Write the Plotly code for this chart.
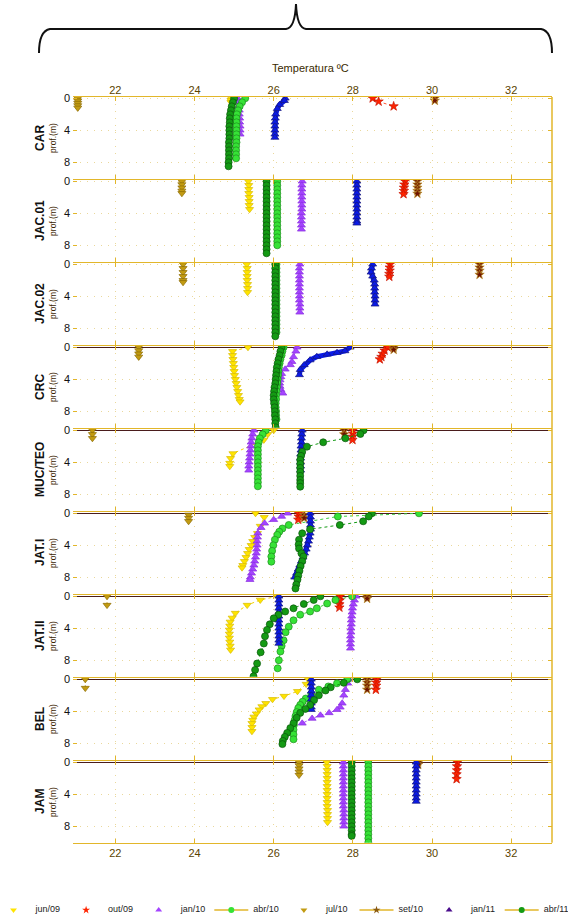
import plotly.graph_objects as go

# ---------------------------------------------------------------- data
STATIONS = ["CAR", "JAC.01", "JAC.02", "CRC", "MUC/TEO", "JAT.I", "JAT.II", "BEL", "JAM"]
X_TICKS = [22, 24, 26, 28, 30, 32]
Y_TICKS = [0, 4, 8]

# each entry: station -> (depths in m, temperatures in degC)
JUN09 = {
    "CAR": ([0, 0.25, 0.5], [24.93, 24.92, 24.92]),
    "JAC.01": ([0, 0.5, 1, 1.5, 2, 2.5, 3, 3.5], [25.36, 25.37, 25.37, 25.37, 25.38, 25.38, 25.38, 25.39]),
    "JAC.02": ([0, 0.5, 1, 1.5, 2, 2.5, 3, 3.5], [25.32, 25.33, 25.33, 25.33, 25.33, 25.34, 25.34, 25.34]),
    "CRC": ([0, 0.5, 1, 1.5, 2, 2.5, 3, 3.5, 4, 4.5, 5, 5.5, 6, 6.5, 6.8],
            [25.35, 24.96, 24.96, 24.97, 24.98, 24.99, 25.0, 25.01, 25.03, 25.05, 25.07, 25.09, 25.11, 25.13, 25.15]),
    "MUC/TEO": ([0, 0.5, 1.2, 2.9, 3.5, 4.1, 4.5], [26.0, 25.85, 25.75, 24.97, 24.91, 24.89, 24.89]),
    "JAT.I": ([0, 0.5, 1.6, 2.5, 3, 3.5, 4, 4.5, 5, 5.5, 6, 6.5, 6.8],
              [25.54, 25.76, 25.66, 25.59, 25.52, 25.47, 25.43, 25.38, 25.34, 25.3, 25.26, 25.22, 25.2]),
    "JAT.II": ([0, 0.46, 1.1, 2.1, 2.7, 3.2, 3.7, 4.2, 4.7, 5.2, 5.7, 6.2, 6.7],
               [26.09, 25.66, 25.33, 25.03, 24.95, 24.9, 24.89, 24.88, 24.88, 24.88, 24.89, 24.9, 24.91]),
    "BEL": ([0, 0.6, 1.5, 2.1, 2.5, 3, 3.4, 3.8, 4.3, 4.7, 5.1, 5.5, 6, 6.5],
            [26.87, 26.82, 26.6, 26.26, 25.97, 25.8, 25.7, 25.63, 25.56, 25.5, 25.47, 25.45, 25.45, 25.45]),
    "JAM": ([0, 0.5, 1, 1.5, 2, 2.5, 3, 3.5, 4, 4.5, 5, 5.5, 6, 6.5, 7, 7.5],
            [27.34, 27.35, 27.35, 27.35, 27.35, 27.35, 27.35, 27.35, 27.35, 27.35, 27.35, 27.35, 27.36, 27.36, 27.36, 27.36]),
}

OUT09 = {
    "CAR": ([0, 0.4, 1.0], [28.5, 28.65, 29.03]),
    "JAC.01": ([0, 0.4, 0.8, 1.2, 1.6], [29.32, 29.3, 29.29, 29.29, 29.28]),
    "JAC.02": ([0, 0.4, 0.8, 1.2, 1.55], [28.94, 28.93, 28.93, 28.92, 28.92]),
    "CRC": ([0, 0.4, 0.8, 1.2, 1.5], [28.88, 28.8, 28.75, 28.72, 28.68]),
    "MUC/TEO": ([0, 0.4, 0.8, 1.2], [28.0, 28.0, 27.99, 27.99]),
    "JAT.I": ([0, 0.4, 0.8], [26.63, 26.63, 26.62]),
    "JAT.II": ([0, 0.5, 1.0, 1.4], [27.68, 27.67, 27.66, 27.66]),
    "BEL": ([0, 0.4, 0.8, 1.3], [28.6, 28.59, 28.59, 28.58]),
    "JAM": ([0, 0.5, 1, 1.5, 2.1], [30.64, 30.63, 30.63, 30.62, 30.62]),
}

JAN10 = {
    "CAR": ([0, 0.5, 1, 1.5, 2, 2.5, 3, 3.5, 4, 4.5],
            [25.09, 25.11, 25.12, 25.13, 25.13, 25.14, 25.14, 25.15, 25.15, 25.15]),
    "JAC.01": ([0, 0.5, 1, 1.5, 2, 2.5, 3, 3.5, 4, 4.5, 5, 5.5, 6],
               [26.72, 26.71, 26.71, 26.71, 26.71, 26.71, 26.71, 26.71, 26.7, 26.7, 26.7, 26.7, 26.7]),
    "JAC.02": ([0, 0.5, 1, 1.5, 2, 2.5, 3, 3.5, 4, 4.5, 5, 5.5, 6],
               [26.66, 26.65, 26.65, 26.65, 26.65, 26.65, 26.65, 26.65, 26.65, 26.65, 26.66, 26.66, 26.66]),
    "CRC": ([0, 0.5, 1.2, 1.8, 2.2, 2.75, 3.3, 3.7, 4.1, 4.5, 4.9, 5.3, 5.75],
            [26.59, 26.56, 26.5, 26.46, 26.42, 26.29, 26.2, 26.18, 26.16, 26.15, 26.16, 26.18, 26.23]),
    "MUC/TEO": ([0, 0.5, 1, 1.5, 2, 2.5, 3, 3.5, 4, 4.5, 5],
                [25.5, 25.47, 25.45, 25.43, 25.42, 25.41, 25.4, 25.39, 25.38, 25.37, 25.37]),
    "JAT.I": ([0, 0.4, 0.8, 1.25, 1.8, 2.5, 3, 3.5, 4, 4.5, 5, 5.5, 6, 6.5, 7, 7.5, 8, 8.3],
              [26.35, 26.2, 26.0, 25.77, 25.68, 25.6, 25.59, 25.58, 25.58, 25.57, 25.56, 25.54, 25.52, 25.5, 25.47, 25.44, 25.41, 25.4]),
    "JAT.II": ([0, 0.5, 1, 1.5, 2, 2.5, 3, 3.5, 4, 4.5, 5, 5.5, 6, 6.5],
               [28.08, 28.04, 28.01, 27.99, 27.98, 27.97, 27.96, 27.96, 27.95, 27.95, 27.94, 27.94, 27.94, 27.94]),
    "BEL": ([0, 0.5, 1.3, 2, 3, 3.5, 3.8, 4.2, 4.5, 4.9, 5.5],
            [27.9, 27.87, 27.81, 27.77, 27.73, 27.68, 27.6, 27.4, 27.18, 26.97, 26.72]),
    "JAM": ([0, 0.5, 1, 1.5, 2, 2.5, 3, 3.5, 4, 4.5, 5, 5.5, 6, 6.5, 7, 7.5, 8],
            [27.76, 27.76, 27.76, 27.76, 27.76, 27.76, 27.76, 27.76, 27.76, 27.76, 27.76, 27.76, 27.77, 27.77, 27.77, 27.77, 27.77]),
}

ABR10 = {
    "CAR": ([0, 0.5, 1, 1.5, 2, 2.5, 3, 3.5, 4, 4.5, 5, 5.5, 6, 6.5, 7, 7.5],
            [25.28, 25.2, 25.14, 25.1, 25.07, 25.06, 25.06, 25.06, 25.06, 25.06, 25.06, 25.06, 25.05, 25.05, 25.05, 25.05]),
    "JAC.01": ([0, 0.5, 1, 1.5, 2, 2.5, 3, 3.5, 4, 4.5, 5, 5.5, 6, 6.5, 7, 7.5, 8],
               [26.09, 26.09, 26.09, 26.09, 26.09, 26.09, 26.09, 26.09, 26.09, 26.09, 26.09, 26.09, 26.09, 26.09, 26.09, 26.09, 26.09]),
    "JAC.02": ([0, 0.5, 1, 1.5, 2, 2.5, 3, 3.5, 4, 4.5, 5, 5.5, 6, 6.5, 7, 7.5, 8, 8.5],
               [26.07, 26.07, 26.07, 26.07, 26.07, 26.07, 26.07, 26.07, 26.07, 26.07, 26.07, 26.07, 26.07, 26.07, 26.07, 26.07, 26.07, 26.07]),
    "CRC": ([0, 0.5, 1, 1.5, 2, 2.5, 3, 3.5, 4, 4.5, 5, 5.5, 6, 6.5, 7, 7.5, 8, 8.5, 9],
            [26.25, 26.22, 26.2, 26.17, 26.15, 26.13, 26.12, 26.11, 26.1, 26.09, 26.08, 26.07, 26.06, 26.06, 26.05, 26.05, 26.06, 26.06, 26.07]),
    "MUC/TEO": ([0, 0.5, 1, 1.5, 2, 2.5, 3, 3.5, 4, 4.5, 5, 5.5, 6, 6.5, 7],
                [25.8, 25.72, 25.65, 25.62, 25.6, 25.6, 25.6, 25.6, 25.6, 25.6, 25.6, 25.6, 25.6, 25.6, 25.6]),
    "JAT.I": ([0, 0.4, 1.46, 1.9, 2.3, 2.7, 3.3, 4, 4.7, 5.4, 6.05],
              [29.67, 27.62, 26.38, 26.22, 26.14, 26.09, 26.03, 25.99, 25.96, 25.94, 25.94]),
    "JAT.II": ([0, 0.46, 0.9, 1.5, 1.9, 2.3, 3, 3.8, 4.5, 5.5, 6.2, 6.9, 8, 9],
               [27.98, 27.56, 27.35, 27.09, 26.92, 26.67, 26.5, 26.38, 26.3, 26.25, 26.2, 26.17, 26.13, 26.1]),
    "BEL": ([0, 0.5, 0.9, 1.3, 1.8, 2.4, 2.8, 3.2, 3.6, 4.1, 4.6, 5.1, 5.7, 6.3, 6.9, 7.5],
            [27.86, 27.6, 27.38, 27.14, 26.95, 26.81, 26.73, 26.67, 26.62, 26.58, 26.55, 26.53, 26.51, 26.5, 26.5, 26.5]),
    "JAM": ([0, 0.5, 1, 1.5, 2, 2.5, 3, 3.5, 4, 4.5, 5, 5.5, 6, 6.5, 7, 7.5, 8, 8.5, 9, 9.5, 10],
            [28.39, 28.39, 28.39, 28.39, 28.39, 28.39, 28.39, 28.39, 28.39, 28.39, 28.39,
             28.39, 28.39, 28.39, 28.39, 28.39, 28.39, 28.39, 28.39, 28.39, 28.39]),
}

JUL10 = {
    "CAR": ([0, 0.3, 0.6, 0.9, 1.2], [21.05, 21.05, 21.05, 21.05, 21.05]),
    "JAC.01": ([0, 0.4, 0.8, 1.2, 1.5], [23.68, 23.68, 23.68, 23.68, 23.68]),
    "JAC.02": ([0, 0.5, 1.0, 1.5, 2.0, 2.25], [23.71, 23.71, 23.71, 23.71, 23.71, 23.71]),
    "CRC": ([0, 0.4, 0.8, 1.2], [22.59, 22.59, 22.59, 22.59]),
    "MUC/TEO": ([0, 0.5, 1.0], [21.42, 21.42, 21.42]),
    "JAT.I": ([0.2, 0.6, 1.0], [23.85, 23.85, 23.85]),
    "JAT.II": ([0, 1.1], [21.79, 21.79]),
    "BEL": ([0, 1.1], [21.24, 21.24]),
    "JAM": ([0, 0.4, 0.8, 1.2, 1.6], [26.64, 26.64, 26.64, 26.64, 26.64]),
}

SET10 = {
    "CAR": ([0, 0.3], [30.07, 30.07]),
    "JAC.01": ([0, 0.4, 0.8, 1.2, 1.55], [29.63, 29.63, 29.63, 29.63, 29.63]),
    "JAC.02": ([0, 0.4, 0.8, 1.3], [31.2, 31.2, 31.2, 31.2]),
    "CRC": ([0, 0.3], [29.03, 29.03]),
    "MUC/TEO": ([0, 0.5], [27.78, 27.78]),
    "JAT.I": ([0.2, 0.6], [26.77, 26.77]),
    "JAT.II": ([0, 0.3], [28.36, 28.36]),
    "BEL": ([0, 0.4, 0.8, 1.3], [28.36, 28.36, 28.36, 28.36]),
    "JAM": ([0, 0.3], [29.65, 29.65]),
}

JAN11 = {
    "CAR": ([0, 0.3, 0.8, 1.3, 2.0, 2.5, 3, 3.5, 4, 4.5, 4.9],
            [26.29, 26.27, 26.15, 26.09, 26.05, 26.04, 26.03, 26.03, 26.03, 26.03, 26.03]),
    "JAC.01": ([0, 0.5, 1, 1.5, 2, 2.5, 3, 3.5, 4, 4.5, 5, 5.25],
               [28.1, 28.1, 28.1, 28.1, 28.1, 28.1, 28.1, 28.1, 28.1, 28.1, 28.1, 28.1]),
    "JAC.02": ([0, 0.5, 1, 1.5, 2, 2.5, 3, 3.5, 4, 4.5, 5],
               [28.5, 28.47, 28.46, 28.5, 28.54, 28.55, 28.55, 28.55, 28.56, 28.56, 28.56]),
    "CRC": ([0, 0.46, 0.67, 0.88, 1.17, 1.6, 2.2, 2.8, 3.45],
            [27.93, 27.8, 27.6, 27.35, 27.09, 26.92, 26.77, 26.67, 26.65]),
    "MUC/TEO": ([0, 0.5, 1, 1.5, 2, 2.5, 3, 3.5, 4, 4.5, 5],
                [26.72, 26.71, 26.7, 26.7, 26.69, 26.69, 26.68, 26.68, 26.68, 26.68, 26.68]),
    "JAT.I": ([0, 0.5, 1, 1.5, 2, 2.5, 3, 3.5, 4, 4.5, 5, 5.5, 6, 6.5, 7, 7.5, 8],
              [26.92, 26.93, 26.93, 26.93, 26.93, 26.92, 26.9, 26.88, 26.85, 26.82, 26.78, 26.74, 26.7, 26.66, 26.62, 26.58, 26.53]),
    "JAT.II": ([0, 0.5, 1, 1.5, 2, 2.5, 3, 3.5, 4, 4.5, 5, 5.5, 5.9],
               [26.13, 26.13, 26.13, 26.13, 26.13, 26.13, 26.13, 26.13, 26.13, 26.13, 26.13, 26.13, 26.13]),
    "BEL": ([0, 0.5, 1, 1.5, 2, 2.5, 3, 3.5, 3.8], [26.95, 26.95, 26.95, 26.95, 26.95, 26.95, 26.95, 26.95, 26.95]),
    "JAM": ([0, 0.5, 1, 1.5, 2, 2.5, 3, 3.5, 4, 4.5, 4.9],
            [29.6, 29.6, 29.6, 29.6, 29.6, 29.6, 29.6, 29.6, 29.6, 29.6, 29.6]),
}

ABR11 = {
    "CAR": ([0, 0.5, 1, 1.5, 2, 2.5, 3, 3.5, 4, 4.5, 5, 5.5, 6, 6.5, 7, 7.5, 8, 8.5],
            [25.0, 24.97, 24.94, 24.92, 24.9, 24.89, 24.89, 24.88, 24.88, 24.88, 24.88, 24.87, 24.87, 24.87, 24.87, 24.87, 24.86, 24.86]),
    "JAC.01": ([0, 0.5, 1, 1.5, 2, 2.5, 3, 3.5, 4, 4.5, 5, 5.5, 6, 6.5, 7, 7.5, 8, 8.5, 9],
               [25.82, 25.82, 25.82, 25.82, 25.82, 25.82, 25.82, 25.82, 25.82, 25.82,
                25.82, 25.82, 25.82, 25.82, 25.82, 25.82, 25.82, 25.82, 25.82]),
    "JAC.02": ([0, 0.5, 1, 1.5, 2, 2.5, 3, 3.5, 4, 4.5, 5, 5.5, 6, 6.5, 7, 7.5, 8, 8.5, 9],
               [26.04, 26.04, 26.04, 26.04, 26.04, 26.04, 26.04, 26.04, 26.04, 26.04,
                26.04, 26.04, 26.04, 26.04, 26.04, 26.04, 26.04, 26.04, 26.04]),
    "CRC": ([0, 0.5, 1, 1.5, 2, 2.5, 3, 3.5, 4, 4.5, 5, 5.5, 6, 6.5, 7, 7.5, 8, 8.5, 9, 9.5, 10],
            [26.2, 26.17, 26.15, 26.12, 26.1, 26.08, 26.07, 26.06, 26.05, 26.04, 26.02,
             26.01, 26.0, 26.0, 26.01, 26.02, 26.03, 26.03, 26.04, 26.04, 26.05]),
    "MUC/TEO": ([0, 0.46, 1.0, 1.5, 2.05, 2.7, 3.2, 3.7, 4.2, 4.7, 5.2, 5.7, 6.2, 6.6, 7.05],
                [28.27, 28.19, 27.81, 27.25, 26.84, 26.72, 26.69, 26.67, 26.67, 26.67, 26.67, 26.67, 26.67, 26.67, 26.67]),
    "JAT.I": ([0, 0.4, 1.0, 1.46, 2.0, 2.5, 3.3, 3.9, 4.4, 5.0, 5.4, 6.0, 6.6, 7.2, 7.8, 8.3, 8.9, 9.4],
              [28.48, 28.4, 28.26, 27.67, 26.92, 26.72, 26.64, 26.63, 26.64, 26.7, 26.75, 26.72, 26.68, 26.65, 26.62, 26.6, 26.57, 26.55]),
    "JAT.II": ([0, 0.46, 0.96, 1.5, 1.9, 2.3, 2.75, 3.5, 4.2, 5.0, 5.9, 7.0, 8.4, 9.2, 10.0],
               [27.18, 27.01, 26.76, 26.5, 26.29, 26.12, 26.0, 25.9, 25.83, 25.78, 25.75, 25.67, 25.58, 25.53, 25.49]),
    "BEL": ([0, 0.44, 1.0, 1.4, 2.0, 2.6, 3.2, 3.7, 4.2, 4.8, 5.5, 6.1, 6.7, 7.2, 7.7, 8.1],
            [28.11, 27.77, 27.44, 27.31, 27.14, 27.02, 26.92, 26.8, 26.67, 26.58, 26.5, 26.42, 26.34, 26.28, 26.23, 26.22]),
    "JAM": ([0, 0.5, 1, 1.5, 2, 2.5, 3, 3.5, 4, 4.5, 5, 5.5, 6, 6.5, 7, 7.5, 8, 8.5, 9, 9.2],
            [27.97, 27.97, 27.97, 27.97, 27.97, 27.97, 27.97, 27.97, 27.97, 27.97,
             27.97, 27.97, 27.97, 27.97, 27.97, 27.97, 27.97, 27.97, 27.97, 27.97]),
}

# ---------------------------------------------------------------- styles
GOLD = "#E2B62A"
SERIES = [
    ("jun/09", JUN09, dict(symbol="triangle-down", size=7, color="#FFE400", edge="#D9BC00",
                           lcolor="#F2D300", dash="dot", lwidth=1)),
    ("out/09", OUT09, dict(symbol="star", size=7, color="#FF2400", edge="#C81400",
                           lcolor="#FF5030", dash="dot", lwidth=1)),
    ("jan/10", JAN10, dict(symbol="triangle-up", size=7, color="#A444FF", edge="#8A2EE0",
                           lcolor="#A444FF", dash="dot", lwidth=1)),
    ("abr/10", ABR10, dict(symbol="circle", size=7, color="#36E236", edge="#1E8C1E",
                           lcolor="#3CCF3C", dash="dot", lwidth=1)),
    ("jul/10", JUL10, dict(symbol="triangle-down", size=7, color="#C29B12", edge="#8C6C00",
                           lcolor="#C29B12", dash="dot", lwidth=1)),
    ("set/10", SET10, dict(symbol="star", size=7, color="#6E1200", edge="#B88A20",
                           lcolor="#C99A2A", dash="solid", lwidth=1)),
    ("jan/11", JAN11, dict(symbol="triangle-up", size=7, color="#0A1AE6", edge="#18187A",
                           lcolor="#0A1AE6", dash="solid", lwidth=5)),
    ("abr/11", ABR11, dict(symbol="circle", size=7, color="#149A14", edge="#0B560B",
                           lcolor="#149A14", dash="dot", lwidth=1)),
]

# legend key look: (has line, symbol, fill colour)
LEGEND_LOOK = {
    "jun/09": (False, "triangle-down", "#FFE400"),
    "out/09": (False, "star", "#FF2400"),
    "jan/10": (False, "triangle-up", "#A444FF"),
    "abr/10": (True, "circle", "#36E236"),
    "jul/10": (False, "triangle-down", "#C29B12"),
    "set/10": (True, "star", "#8A5A10"),
    "jan/11": (False, "triangle-up", "#4A0C8C"),
    "abr/11": (True, "circle", "#149A14"),
}

# ---------------------------------------------------------------- geometry (pixels)
W, H = 568, 917
PLOT_L, PLOT_R = 73, 552
ZERO0, PANEL_PITCH = 98.3, 83.0
Y_RANGE = [10.05, -0.15]
PX_PER_M = 8.0
X_RANGE = [20.93, 33.03]
LEG_Y, LEG_X0, LEG_PITCH, LEG_TEXT_DX, LEG_LINE_HALF = 910, 13.5, 72.6, 22, 17


def fx(px):
    return px / W


def fy(py):
    return 1 - py / H


def clamp01(v):
    return min(1.0, max(0.0, v))


fig = go.Figure()

for name, table, st in SERIES:
    for k, station in enumerate(STATIONS):
        if station not in table:
            continue
        depths, temps = table[station]
        sfx = "" if k == 0 else str(k + 1)
        fig.add_trace(go.Scatter(
            x=temps, y=depths, xaxis="x" + sfx, yaxis="y" + sfx,
            mode="lines+markers", showlegend=False, name=name,
            line=dict(color=st["lcolor"], width=st["lwidth"], dash=st["dash"]),
            marker=dict(symbol=st["symbol"], size=st["size"], color=st["color"],
                        line=dict(color=st["edge"], width=0.7)),
            hoverinfo="skip",
        ))

# legend row drawn on its own pixel-scaled axis pair
LEG_AX = len(STATIONS) + 1
for i, (name, _, _) in enumerate(SERIES):
    has_line, sym, col = LEGEND_LOOK[name]
    cx = LEG_X0 + i * LEG_PITCH
    if has_line:
        fig.add_trace(go.Scatter(
            x=[cx - LEG_LINE_HALF, cx + LEG_LINE_HALF], y=[LEG_Y, LEG_Y],
            xaxis=f"x{LEG_AX}", yaxis=f"y{LEG_AX}", mode="lines", showlegend=False,
            line=dict(color=GOLD, width=1.5), hoverinfo="skip"))
    fig.add_trace(go.Scatter(
        x=[cx], y=[LEG_Y], xaxis=f"x{LEG_AX}", yaxis=f"y{LEG_AX}", mode="markers",
        showlegend=False, marker=dict(symbol=sym, size=6, color=col, line=dict(width=0)),
        hoverinfo="skip"))
    fig.add_trace(go.Scatter(
        x=[cx + LEG_TEXT_DX], y=[LEG_Y], xaxis=f"x{LEG_AX}", yaxis=f"y{LEG_AX}", mode="text",
        text=[name], textposition="middle right", showlegend=False,
        textfont=dict(size=9, color="#222"), hoverinfo="skip", cliponaxis=False))

layout = dict(
    width=W, height=H, margin=dict(l=0, r=0, t=0, b=0, pad=0, autoexpand=False),
    paper_bgcolor="white", plot_bgcolor="white",
    font=dict(family="Liberation Sans, Arial, sans-serif", size=10, color="#222"),
    showlegend=False,
)

annotations = []
shapes = []
for k, station in enumerate(STATIONS):
    sfx = "" if k == 0 else str(k + 1)
    zero = ZERO0 + k * PANEL_PITCH
    top = zero + Y_RANGE[1] * PX_PER_M
    bot = zero + Y_RANGE[0] * PX_PER_M
    last = k == len(STATIONS) - 1
    xa = dict(
        domain=[fx(PLOT_L), fx(PLOT_R)], anchor="y" + sfx, range=X_RANGE, tickvals=X_TICKS,
        ticks="inside", ticklen=4, tickcolor=GOLD, tickwidth=1,
        showline=True, linecolor=GOLD, linewidth=1.2, mirror="ticks",
        showgrid=True, gridcolor="#EAD89C", griddash="1px,6px", gridwidth=1,
        zeroline=False, tickfont=dict(size=11, color="#5A4300"),
        showticklabels=(k == 0 or last), automargin=False,
        side="top" if k == 0 else "bottom",
        ticklabelstandoff=(-2 if k == 0 else 0),
    )
    ya = dict(
        domain=[clamp01(fy(bot)), clamp01(fy(top))], anchor="x" + sfx, range=Y_RANGE,
        tickvals=Y_TICKS, ticks="inside", ticklen=4, tickcolor=GOLD, tickwidth=1,
        showline=False, mirror="ticks", automargin=False,
        showgrid=True, gridcolor="#EAD89C", griddash="1px,6px", gridwidth=1,
        zeroline=(k >= 3), zerolinecolor="#4A1C1C", zerolinewidth=1.2,
        tickfont=dict(size=11, color="#111"), ticklabelstandoff=2,
    )
    layout["xaxis" + sfx] = xa
    layout["yaxis" + sfx] = ya

    ymid = fy((top + bot) / 2)
    annotations.append(dict(text="<b>" + station + "</b>", x=fx(40), y=ymid, xref="paper", yref="paper",
                            textangle=-90, showarrow=False, xanchor="center", yanchor="middle",
                            font=dict(size=12, color="#111")))
    annotations.append(dict(text="prof.(m)", x=fx(53), y=ymid, xref="paper", yref="paper",
                            textangle=-90, showarrow=False, xanchor="center", yanchor="middle",
                            font=dict(size=8.5, color="#3A2400")))

layout[f"xaxis{LEG_AX}"] = dict(domain=[0, 1], range=[0, W], visible=False, fixedrange=True,
                                anchor=f"y{LEG_AX}", automargin=False)
layout[f"yaxis{LEG_AX}"] = dict(domain=[0, fy(890)], range=[H, 890], visible=False, fixedrange=True,
                                anchor=f"x{LEG_AX}", automargin=False)

annotations.append(dict(text="Temperatura ºC", x=fx(310), y=fy(68), xref="paper", yref="paper",
                        showarrow=False, xanchor="center", yanchor="middle",
                        font=dict(size=11, color="#3A2A00")))

# right-hand frame of the stacked panels
shapes.append(dict(type="line", xref="paper", yref="paper", x0=fx(PLOT_R), x1=fx(PLOT_R),
                   y0=fy(ZERO0 + (len(STATIONS) - 1) * PANEL_PITCH + Y_RANGE[0] * PX_PER_M),
                   y1=fy(ZERO0 + Y_RANGE[1] * PX_PER_M),
                   line=dict(color=GOLD, width=1.5)))

# curly brace above the panels
pts = [(39, 53), (39, 31), (50, 29), (286, 29), (295, 28), (296, 4), (297, 28), (306, 29),
       (541, 29), (552, 31), (552, 53)]
P = [(fx(a), fy(b)) for a, b in pts]
brace = (f"M {P[0][0]},{P[0][1]} Q {P[1][0]},{P[1][1]} {P[2][0]},{P[2][1]} "
         f"L {P[3][0]},{P[3][1]} Q {P[4][0]},{P[4][1]} {P[5][0]},{P[5][1]} "
         f"Q {P[6][0]},{P[6][1]} {P[7][0]},{P[7][1]} "
         f"L {P[8][0]},{P[8][1]} Q {P[9][0]},{P[9][1]} {P[10][0]},{P[10][1]}")
shapes.append(dict(type="path", xref="paper", yref="paper", path=brace,
                   line=dict(color="#111", width=2)))

layout["annotations"] = annotations
layout["shapes"] = shapes
fig.update_layout(**layout)

fig.write_html("out.html")
